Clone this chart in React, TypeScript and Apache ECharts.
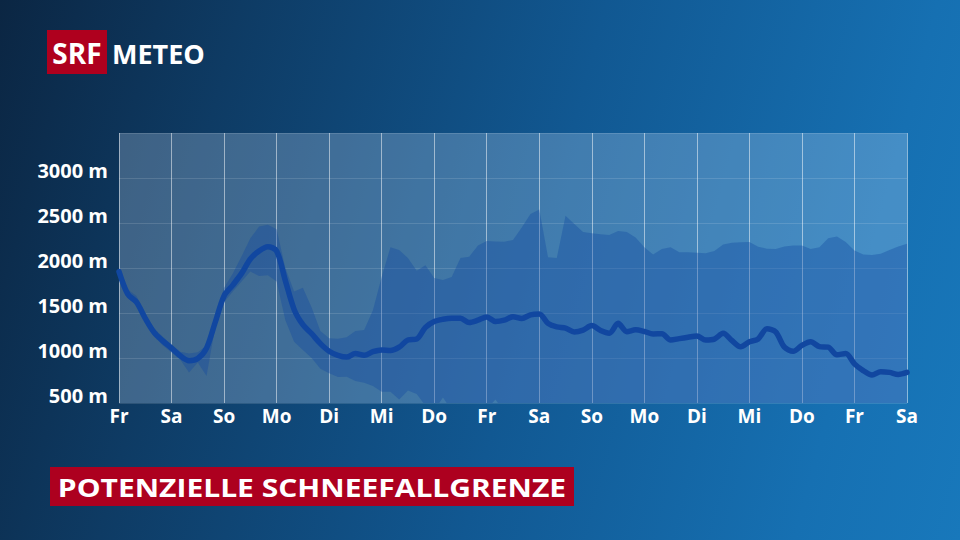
import React, { useEffect, useRef } from "react";
import * as echarts from "echarts";

// Day labels at every 24h tick (data is 4-hourly: 6 steps per day)
const dayLabels = ["Fr", "Sa", "So", "Mo", "Di", "Mi", "Do", "Fr", "Sa", "So", "Mo", "Di", "Mi", "Do", "Fr", "Sa"];
const stepsPerDay = 6;

// Median potential snowfall line (m)
const median = [
  1960, 1710, 1620, 1440, 1285, 1190, 1110, 1025, 970, 995,
  1110, 1400, 1690, 1810, 1940, 2100, 2190, 2237, 2190, 1860,
  1540, 1370, 1270, 1160, 1075, 1030, 1010, 1050, 1030, 1070,
  1090, 1082, 1120, 1200, 1210, 1340, 1405, 1430, 1441, 1441,
  1395, 1420, 1455, 1405, 1420, 1459, 1440, 1480, 1489, 1385,
  1345, 1332, 1290, 1310, 1360, 1305, 1275, 1385, 1293, 1313,
  1295, 1268, 1270, 1200, 1215, 1230, 1245, 1200, 1210, 1274,
  1195, 1125, 1180, 1212, 1325, 1290, 1120, 1074, 1140, 1180,
  1126, 1120, 1035, 1050, 935, 860, 811, 848, 840, 818,
  840,
];

// Upper bound of the ensemble spread (m)
const upper = [
  1975, 1760, 1690, 1490, 1330, 1235, 1150, 1070, 1050, 1065,
  1140, 1460, 1780, 1940, 2130, 2330, 2460, 2480, 2430, 2000,
  1740, 1780, 1560, 1300, 1220, 1215, 1230, 1300, 1310, 1530,
  1900, 2230, 2200, 2110, 1970, 2030, 1890, 1867, 1900, 2110,
  2126, 2250, 2300, 2295, 2293, 2310, 2450, 2600, 2650, 2120,
  2110, 2580, 2490, 2400, 2385, 2375, 2367, 2410, 2400, 2340,
  2230, 2150, 2210, 2230, 2175, 2174, 2170, 2163, 2190, 2260,
  2280, 2285, 2290, 2237, 2215, 2210, 2240, 2250, 2250, 2210,
  2230, 2330, 2350, 2290, 2195, 2150, 2145, 2158, 2200, 2240,
  2270,
];

// Lower bound of the ensemble spread (m); values under 500 fall below the chart floor
const lower = [
  1940, 1670, 1590, 1390, 1240, 1140, 1060, 980, 840, 950,
  800, 1350, 1620, 1740, 1850, 1960, 1910, 1920, 1850, 1420,
  1180, 1090, 1000, 880, 830, 790, 792, 745, 725, 690,
  626, 626, 540, 640, 600, 470, 420, 560, 420, 400,
  400, 400, 430, 540, 400, 400, 400, 400, 400, 400,
  400, 400, 400, 400, 400, 400, 400, 400, 400, 400,
  400, 400, 400, 400, 400, 400, 400, 400, 400, 400,
  400, 400, 400, 400, 400, 400, 400, 400, 400, 400,
  400, 400, 400, 400, 400, 400, 400, 400, 400, 400,
  400,
];

const yMin = 500;
const yMax = 3500;
const yInterval = 500;

const FONT = "'Open Sans', 'Noto Sans', sans-serif";

export default function App() {
  const ref = useRef<HTMLDivElement>(null);

  useEffect(() => {
    if (!ref.current) return;
    const chart = echarts.init(ref.current, null, { renderer: "svg" });
    const categories = median.map((_, i) => String(i));
    const spread = upper.map((u, i) => u - lower[i]);
    const isDay = (idx: number) => idx % stepsPerDay === 0;

    chart.setOption({
      animation: false,
      backgroundColor: "transparent",
      grid: {
        left: 119,
        right: 53,
        top: 133,
        bottom: 137,
        show: true,
        backgroundColor: "rgba(205,228,255,0.26)",
        borderWidth: 0,
        containLabel: false,
      },
      xAxis: {
        type: "category",
        data: categories,
        boundaryGap: false,
        axisLine: { show: false },
        axisTick: { show: false },
        axisLabel: {
          interval: (idx: number) => isDay(idx),
          formatter: (_v: string, idx: number) => dayLabels[idx / stepsPerDay] ?? "",
          color: "#ffffff",
          fontFamily: FONT,
          fontWeight: 700,
          fontSize: 19,
          margin: 3,
        },
        splitLine: {
          show: true,
          interval: (idx: number) => isDay(idx),
          lineStyle: { color: "rgba(255,255,255,0.5)", width: 1 },
        },
      },
      yAxis: {
        type: "value",
        min: yMin,
        max: yMax,
        interval: yInterval,
        axisLine: { show: false },
        axisTick: { show: false },
        axisLabel: {
          showMaxLabel: false,
          formatter: (v: number) => (v >= yMax ? "" : `${v} m`),
          color: "#ffffff",
          fontFamily: FONT,
          fontWeight: 700,
          fontSize: 20,
          margin: 11,
          verticalAlign: "bottom",
          lineHeight: 16,
        },
        splitLine: {
          show: true,
          lineStyle: { color: "rgba(255,255,255,0.13)", width: 1 },
        },
      },
      series: [
        {
          type: "line",
          name: "lowerBase",
          data: lower,
          stack: "band",
          symbol: "none",
          silent: true,
          lineStyle: { width: 0, opacity: 0 },
          z: 2,
        },
        {
          type: "line",
          name: "spread",
          data: spread,
          stack: "band",
          symbol: "none",
          silent: true,
          lineStyle: { width: 0, opacity: 0 },
          areaStyle: { color: "rgba(16,72,160,0.36)", opacity: 1 },
          z: 2,
        },
        {
          type: "line",
          name: "median",
          data: median,
          symbol: "none",
          smooth: 0.3,
          lineStyle: { color: "#1147a0", width: 5.5, cap: "round", join: "round" },
          z: 3,
        },
      ],
      graphic: [
        {
          type: "rect",
          shape: { x: 47, y: 30, width: 60, height: 44 },
          style: { fill: "#af001e" },
        },
        {
          type: "text",
          x: 77,
          y: 53,
          style: {
            text: "SRF",
            fill: "#ffffff",
            font: `700 28px ${FONT}`,
            align: "center",
            verticalAlign: "middle",
          },
        },
        {
          type: "text",
          x: 112,
          y: 53,
          style: {
            text: "METEO",
            fill: "#ffffff",
            font: `700 27px ${FONT}`,
            align: "left",
            verticalAlign: "middle",
          },
        },
        {
          type: "rect",
          shape: { x: 50, y: 467, width: 524, height: 39 },
          style: { fill: "#ad001f" },
        },
        {
          type: "text",
          x: 312,
          y: 487,
          scaleX: 1.2,
          style: {
            text: "POTENZIELLE SCHNEEFALLGRENZE",
            fill: "#ffffff",
            font: `700 25px ${FONT}`,
            align: "center",
            verticalAlign: "middle",
          },
        },
      ],
    });

    return () => chart.dispose();
  }, []);

  return (
    <div
      style={{
        position: "fixed",
        left: 0,
        top: 0,
        width: 960,
        height: 540,
        background:
          "linear-gradient(105deg, #0b2643 0%, #0e3b64 22%, #115892 55%, #1670b2 85%, #1878bb 100%)",
      }}
    >
      <div ref={ref} style={{ width: 960, height: 540 }} />
    </div>
  );
}
